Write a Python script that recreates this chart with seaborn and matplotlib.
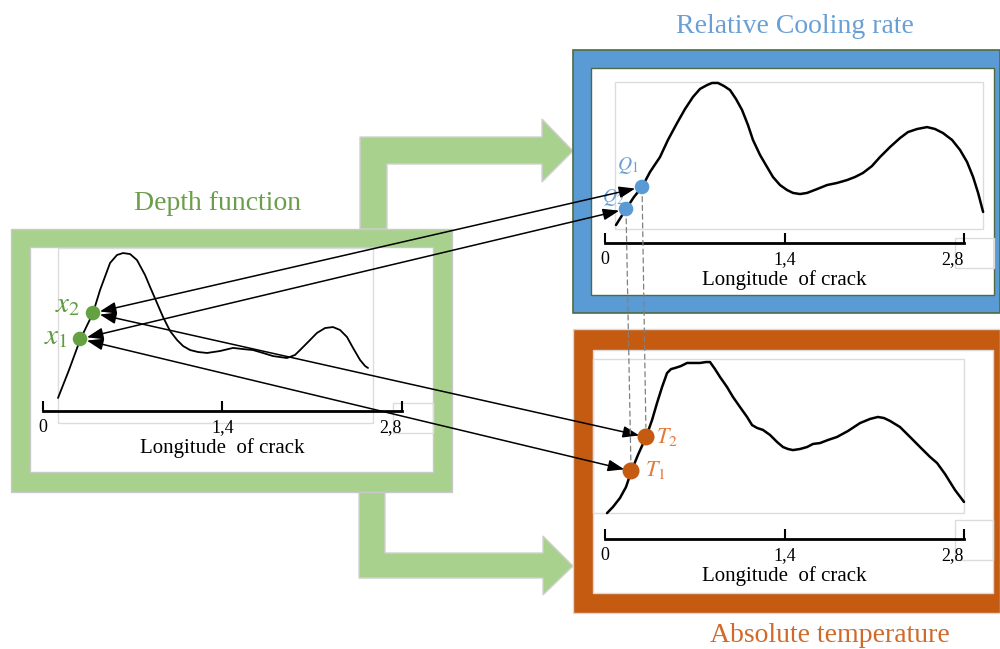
import matplotlib
matplotlib.use("Agg")
import matplotlib.pyplot as plt
import seaborn as sns
from matplotlib.patches import Rectangle, Polygon, ConnectionPatch

# depth function (left panel): longitude of crack vs relative depth
depth_lon = [0.117, 0.203, 0.289, 0.390, 0.445, 0.523, 0.577, 0.624, 0.679, 0.733,
             0.796, 0.835, 0.889, 0.936, 0.991, 1.045, 1.092, 1.147, 1.209, 1.279,
             1.381, 1.482, 1.560, 1.638, 1.716, 1.794, 1.903, 1.966, 2.005, 2.067,
             2.137, 2.200, 2.262, 2.317, 2.371, 2.418, 2.473, 2.512, 2.535]
depth_val = [0.080, 0.252, 0.436, 0.601, 0.742, 0.908, 0.957, 0.969, 0.963, 0.926,
             0.834, 0.761, 0.663, 0.577, 0.491, 0.436, 0.399, 0.374, 0.362, 0.356,
             0.368, 0.387, 0.380, 0.374, 0.356, 0.337, 0.325, 0.344, 0.374, 0.423,
             0.479, 0.509, 0.515, 0.497, 0.454, 0.387, 0.313, 0.276, 0.264]

# relative cooling rate (top right panel)
cool_lon = [0.086, 0.164, 0.226, 0.289, 0.351, 0.429, 0.491, 0.562, 0.624, 0.686,
            0.741, 0.796, 0.835, 0.881, 0.928, 0.975, 1.022, 1.069, 1.115, 1.154,
            1.209, 1.264, 1.310, 1.365, 1.420, 1.466, 1.521, 1.576, 1.654, 1.732,
            1.810, 1.888, 1.950, 2.012, 2.082, 2.145, 2.223, 2.301, 2.363, 2.434,
            2.512, 2.574, 2.636, 2.707, 2.769, 2.824, 2.871, 2.910, 2.949]
cool_val = [0.112, 0.211, 0.286, 0.348, 0.441, 0.534, 0.640, 0.745, 0.832, 0.907,
            0.957, 0.981, 0.994, 0.994, 0.975, 0.950, 0.894, 0.826, 0.733, 0.640,
            0.547, 0.472, 0.410, 0.360, 0.329, 0.311, 0.304, 0.311, 0.335, 0.360,
            0.373, 0.391, 0.410, 0.435, 0.478, 0.534, 0.596, 0.652, 0.689, 0.708,
            0.720, 0.708, 0.683, 0.640, 0.578, 0.503, 0.410, 0.311, 0.193]

# absolute temperature (bottom right panel)
temp_lon = [0.016, 0.062, 0.117, 0.164, 0.203, 0.257, 0.320, 0.367, 0.406, 0.445,
            0.484, 0.515, 0.546, 0.593, 0.640, 0.694, 0.741, 0.788, 0.819, 0.858,
            0.897, 0.952, 0.998, 1.053, 1.108, 1.147, 1.186, 1.232, 1.287, 1.342,
            1.388, 1.427, 1.466, 1.521, 1.576, 1.622, 1.677, 1.739, 1.810, 1.895,
            1.989, 2.067, 2.129, 2.176, 2.223, 2.301, 2.379, 2.457, 2.535, 2.590,
            2.652, 2.730, 2.800]
temp_val = [0.144, 0.178, 0.228, 0.289, 0.372, 0.467, 0.567, 0.661, 0.756, 0.844,
            0.922, 0.944, 0.950, 0.961, 0.978, 0.978, 0.978, 0.983, 0.983, 0.944,
            0.900, 0.844, 0.789, 0.733, 0.678, 0.633, 0.617, 0.606, 0.578, 0.539,
            0.511, 0.500, 0.494, 0.500, 0.511, 0.528, 0.533, 0.550, 0.567, 0.600,
            0.644, 0.667, 0.678, 0.672, 0.656, 0.622, 0.567, 0.511, 0.456, 0.422,
            0.361, 0.272, 0.206]

# marked points
depth_pts_lon = [0.289, 0.390]   # x1, x2
depth_pts_val = [0.442, 0.601]
cool_pts_lon = [0.289, 0.164]    # Q1, Q2
cool_pts_val = [0.348, 0.211]
temp_pts_lon = [0.203, 0.320]    # T1, T2
temp_pts_val = [0.378, 0.567]

tick_pos = [0, 1.4, 2.8]
tick_labels = ["0", "1,4", "2,8"]

GREEN = "#a9d18e"
GREEN_DOT = "#63a143"
BLUE = "#5b9bd5"
ORANGE = "#c55a11"

sns.set_theme(style="white")
plt.rcParams["font.family"] = ["Liberation Serif", "DejaVu Serif"]
plt.rcParams["mathtext.fontset"] = "stix"

W, H = 1000, 649
fig = plt.figure(figsize=(10, 6.49), dpi=100)
fig.patch.set_facecolor("white")

base = fig.add_axes([0, 0, 1, 1])
base.set_xlim(0, W)
base.set_ylim(H, 0)
base.axis("off")


def box(x0, y0, x1, y1, **kw):
    base.add_patch(Rectangle((x0, y0), x1 - x0, y1 - y0, **kw))


# big green elbow arrows
base.add_patch(Polygon([(360, 229), (360, 137), (542, 137), (542, 119), (573, 151),
                        (542, 182), (542, 164), (387, 164), (387, 229)],
                       closed=True, fc=GREEN, ec="#d0d0d0", lw=1, zorder=1))
base.add_patch(Polygon([(359, 491), (359, 578), (543, 578), (543, 595), (573, 566),
                        (543, 536), (543, 553), (385, 553), (385, 491)],
                       closed=True, fc=GREEN, ec="#d0d0d0", lw=1, zorder=1))

# frames
box(11, 229, 452, 492, fc=GREEN, ec="#c9c9c9", lw=1, zorder=2)
box(30, 247, 433, 472, fc="white", ec="#c9c9c9", lw=1, zorder=2)
box(573, 50, 1000, 313, fc=BLUE, ec="#4e6b3f", lw=1.2, zorder=2)
box(591, 68, 994, 295, fc="white", ec="#4e6b3f", lw=1, zorder=2)
box(573, 329, 1000, 613, fc=ORANGE, ec="#d9d9d9", lw=1, zorder=2)
box(593, 350, 993, 593, fc="white", ec="#d9d9d9", lw=1, zorder=2)

# light plot-area boxes
for r in [(58, 248, 373, 423), (615, 82, 983, 229), (593, 359, 964, 513),
          (393, 403, 433, 433), (955, 238, 994, 268), (955, 520, 993, 560)]:
    box(*r, fc="none", ec="#dcdcdc", lw=1, zorder=3)

# titles
base.text(218, 210, "Depth function", color="#6b9e4b", fontsize=20,
          ha="center", va="baseline")
base.text(795, 33, "Relative Cooling rate", color="#6a9fd6", fontsize=20,
          ha="center", va="baseline")
base.text(830, 642, "Absolute temperature", color="#cf6a2a", fontsize=20,
          ha="center", va="baseline")


def panel(x0, x1, ybot, ytop, lon, val, lw):
    ax = fig.add_axes([x0 / W, (H - ybot) / H, (x1 - x0) / W, (ybot - ytop) / H])
    ax.set_facecolor("none")
    sns.lineplot(x=lon, y=val, ax=ax, color="black", lw=lw, sort=False,
                 estimator=None)
    for ln in ax.lines:
        ln.set_clip_on(False)
    ax.set_xlim(0, 2.8)
    ax.set_ylim(0, 1)
    for s in ["left", "top", "right"]:
        ax.spines[s].set_visible(False)
    ax.spines["bottom"].set_color("black")
    ax.spines["bottom"].set_linewidth(2)
    ax.set_yticks([])
    ax.set_xticks(tick_pos)
    ax.set_xticklabels(tick_labels)
    ax.tick_params(axis="x", direction="in", length=7, width=1.5, color="black",
                   labelsize=13, pad=6, labelcolor="black", bottom=True)
    ax.get_xticklabels()[-1].set_ha("right")
    ax.set_xlabel("Longitude  of crack", fontsize=15, color="black", labelpad=1)
    ax.set_ylabel("")
    return ax


axL = panel(43, 402, 411, 248, depth_lon, depth_val, 1.3)
axT = panel(605, 964, 243, 82, cool_lon, cool_val, 1.8)
axB = panel(605, 964, 539, 359, temp_lon, temp_val, 1.8)

sns.scatterplot(x=depth_pts_lon, y=depth_pts_val, ax=axL, color=GREEN_DOT, s=110,
                edgecolor="none", zorder=5, clip_on=False)
sns.scatterplot(x=cool_pts_lon, y=cool_pts_val, ax=axT, color=BLUE, s=110,
                edgecolor="none", zorder=5, clip_on=False)
sns.scatterplot(x=temp_pts_lon, y=temp_pts_val, ax=axB, color=ORANGE, s=150,
                edgecolor="none", zorder=5, clip_on=False)

# point labels
base.text(80, 312, r"$x_2$", color="#5f9a3e", fontsize=21, ha="right", va="baseline", zorder=6)
base.text(68, 344, r"$x_1$", color="#5f9a3e", fontsize=21, ha="right", va="baseline", zorder=6)
base.text(617, 170, r"$Q_1$", color="#6a9fd6", fontsize=14, ha="left", va="baseline", zorder=6)
base.text(602, 202, r"$Q_2$", color="#6a9fd6", fontsize=14, ha="left", va="baseline", zorder=6)
base.text(656, 443, r"$T_2$", color="#e07b39", fontsize=16, ha="left", va="baseline", zorder=6)
base.text(645, 476, r"$T_1$", color="#e07b39", fontsize=16, ha="left", va="baseline", zorder=6)

# double arrows linking the points
style = "<|-|>,head_length=0.7,head_width=0.25"
links = [(axL, depth_pts_lon[1], depth_pts_val[1], axT, cool_pts_lon[0], cool_pts_val[0]),
         (axL, depth_pts_lon[0], depth_pts_val[0], axT, cool_pts_lon[1], cool_pts_val[1]),
         (axL, depth_pts_lon[1], depth_pts_val[1], axB, temp_pts_lon[1], temp_pts_val[1]),
         (axL, depth_pts_lon[0], depth_pts_val[0], axB, temp_pts_lon[0], temp_pts_val[0])]
for a1, xa, ya, a2, xb, yb in links:
    con = ConnectionPatch((xa, ya), (xb, yb), coordsA=a1.transData, coordsB=a2.transData,
                          arrowstyle=style, mutation_scale=14, color="black", lw=1.1,
                          shrinkA=5, shrinkB=5)
    fig.add_artist(con)

# dashed drop lines from Q to T
for (xq, yq), (xt, yt) in [((cool_pts_lon[1], cool_pts_val[1]), (temp_pts_lon[0], temp_pts_val[0])),
                           ((cool_pts_lon[0], cool_pts_val[0]), (temp_pts_lon[1], temp_pts_val[1]))]:
    con = ConnectionPatch((xq, yq), (xt, yt), coordsA=axT.transData, coordsB=axB.transData,
                          arrowstyle="-", color="#808080", lw=0.9, linestyle=(0, (4, 3)),
                          shrinkA=7, shrinkB=7)
    fig.add_artist(con)

fig.savefig("out.png", dpi=100, facecolor="white")
